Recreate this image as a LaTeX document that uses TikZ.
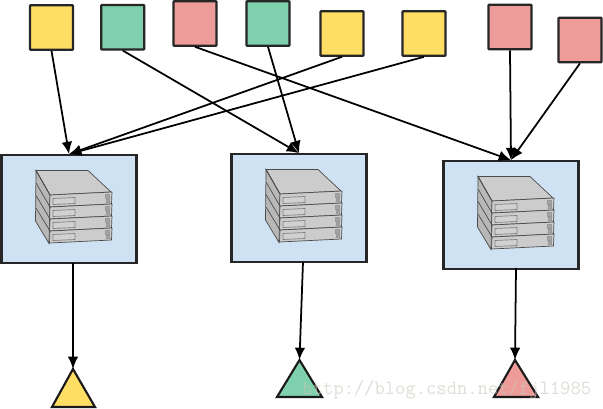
\documentclass[tikz,border=0pt]{standalone}
\usepackage{xcolor}
\usetikzlibrary{arrows.meta}

\definecolor{boxblue}{HTML}{CFE2F3}
\definecolor{srvgray}{HTML}{CCCCCC}
\definecolor{keyyellow}{HTML}{FFDE66}
\definecolor{keygreen}{HTML}{7FD0AC}
\definecolor{keyred}{HTML}{EE9C99}
\definecolor{markgray}{HTML}{C8C8BC}

\tikzset{
    keybox/.style={draw=black!85, line width=1.2pt, rounded corners=0.4pt, inner sep=0pt, minimum width=0.86cm, minimum height=0.89cm},
    srvbox/.style={draw=black!85, line width=1.3pt, fill=boxblue, inner sep=0pt, minimum width=2.7cm, minimum height=2.15cm},
    flow/.style={-{Latex[length=7pt, width=6pt]}, line width=1pt},
    srvline/.style={draw=black!70, line width=0.4pt},
    serverstack/.pic={
        % top and left side
        \draw[srvline, fill=srvgray] (-33,-38.5) -- (19,-38.5) -- (42,-17) -- (-19,-14) -- cycle;
        \draw[srvline, fill=srvgray!90!black] (-33,-38.5) -- (-19,-14) -- (-20,34.5) -- (-33.5,12) -- cycle;
        % four slabs, front side
        \foreach \i in {0,1,2,3} {
            \draw[srvline, fill=srvgray] (-19,-14+12*\i) -- (43,-17+12*\i) -- (42.5,-5+12*\i) -- (-19.5,-2+12*\i) -- cycle;
            \draw[srvline] (-33,-38.5+12.5*\i) -- (-19,-14+12*\i);
            \draw[draw=black!50, line width=0.4pt, fill=srvgray!90!white] (-16,-10.5+12*\i) -- (6,-11.5+12*\i) -- (6,-5.5+12*\i) -- (-16,-4.5+12*\i) -- cycle;
            \draw[draw=black!40, line width=0.2pt, fill=srvgray!80!black] (36,-14.5+12*\i) rectangle ++(4,3.5);
            \draw[draw=black!40, line width=0.2pt, fill=srvgray!80!black] (37,-9.5+12*\i) rectangle ++(3,2.5);
        }
    }
}

\begin{document}
\begin{tikzpicture}[x=0.02cm, y=-0.02cm]

    \useasboundingbox (0,0) rectangle (603,409);

    % Keys on top
    \node[keybox, fill=keyyellow] (keya) at (51.5,27.5) {};
    \node[keybox, fill=keygreen] (keyb) at (122.75,27.25) {};
    \node[keybox, fill=keyred] (keyc) at (195,23.5) {};
    \node[keybox, fill=keygreen] (keyd) at (268,23.5) {};
    \node[keybox, fill=keyyellow] (keye) at (342,33.5) {};
    \node[keybox, fill=keyyellow] (keyf) at (424,33.5) {};
    \node[keybox, fill=keyred] (keyg) at (510,27) {};
    \node[keybox, fill=keyred] (keyh) at (580,40) {};

    % Servers in the middle
    \node[srvbox] (srva) at (69,209) {};
    \node[srvbox] (srvb) at (299,208) {};
    \node[srvbox] (srvc) at (511,215) {};
    \pic at (srva.center) {serverstack};
    \pic at (srvb.center) {serverstack};
    \pic at (srvc.center) {serverstack};

    % Triangles at the bottom
    \coordinate (tipa) at (73,369);
    \coordinate (tipb) at (299.5,360);
    \coordinate (tipc) at (515,360);
    \draw[line width=1.2pt, draw=black!90, fill=keyyellow] (tipa) -- (52,407) -- (95,407) -- cycle;
    \draw[line width=1.2pt, draw=black!90, fill=keygreen] (tipb) -- (277,397) -- (322,397) -- cycle;
    \draw[line width=1.2pt, draw=black!90, fill=keyred] (tipc) -- (494,397) -- (538,397) -- cycle;

    % Arrows
    \draw[flow] (keya.south) -- (srva.north);
    \draw[flow] (keye.south) -- (srva.north);
    \draw[flow] (keyf.south) -- (srva.north);
    \draw[flow] (keyb.south) -- (srvb.north);
    \draw[flow] (keyd.south) -- (srvb.north);
    \draw[flow] (keyc.south) -- (srvc.north);
    \draw[flow] (keyg.south) -- (srvc.north);
    \draw[flow] (keyh.south) -- (srvc.north);

    \coordinate (outa) at (73,263);
    \coordinate (outb) at (303,262);
    \coordinate (outc) at (516,268);
    \draw[flow] (outa) -- (tipa);
    \draw[flow] (outb) -- (tipb);
    \draw[flow] (outc) -- (tipc);

    % Watermark lies over everything
    \node[font=\ttfamily\fontsize{11.4pt}{12pt}\selectfont, text=markgray, text opacity=0.6, anchor=west, inner sep=0pt] (mark) at (302,390) {http://blog.csdn.net/fjl1985};

\end{tikzpicture}
\end{document}
